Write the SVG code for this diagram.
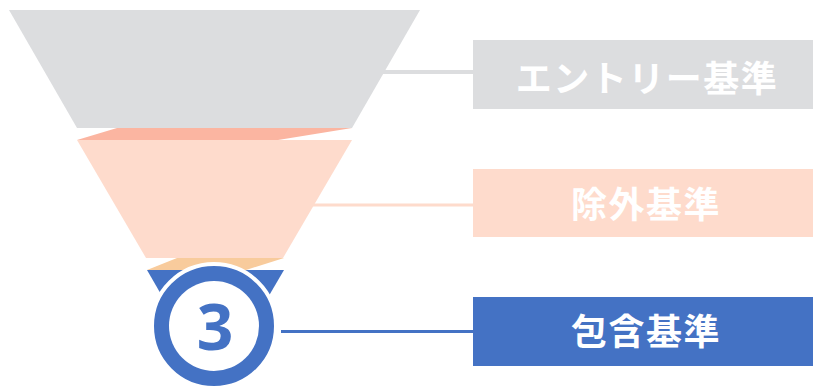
<svg xmlns="http://www.w3.org/2000/svg" width="813" height="388" viewBox="0 0 813 388">
<style>
.lbl{font-family:"Noto Sans CJK JP","Noto Sans",sans-serif;font-weight:700;font-size:36px;fill:#fff;text-anchor:middle;letter-spacing:1.5px}
.num{font-family:"Open Sans","Noto Sans",sans-serif;font-weight:700;font-size:64px;fill:#4472C4;text-anchor:middle}
.conn{fill:none}
</style>
<rect width="813" height="388" fill="#fff"/>
<g id="stage-entry">
<polygon points="9,10 420,10 352,128 77,128" fill="#DCDDDF"/>
</g>
<g id="stage-exclusion">
<polygon points="117,128 352,128 278,140 77,140" fill="#FBB5A1"/>
<polygon points="77,140 352,140 283,258 146,258" fill="#FEDBCC"/>
</g>
<g id="stage-inclusion">
<polygon points="177,258 284,258 246,270 147,270" fill="#F8CB9C"/>
<polygon points="147,270 284,270 215,388 215,388" fill="#4472C4"/>
<circle cx="214" cy="326" r="62" fill="#4472C4" stroke="#fff" stroke-width="4"/>
<circle cx="214" cy="326" r="45" fill="#fff"/>
<text class="num" x="215" y="350">3</text>
</g>
<g id="connectors" class="conn">
<line x1="383" y1="72" x2="474" y2="72" stroke="#DCDDDF" stroke-width="4"/>
<line x1="313" y1="205" x2="474" y2="205" stroke="#FEDBCC" stroke-width="3"/>
<line x1="281" y1="331.5" x2="474" y2="331.5" stroke="#4472C4" stroke-width="3"/>
</g>
<g id="label-entry">
<rect x="473" y="40" width="340" height="69" fill="#DCDDDF"/>
<text class="lbl" x="647" y="92">エントリー基準</text>
</g>
<g id="label-exclusion">
<rect x="473" y="169" width="340" height="68" fill="#FEDBCC"/>
<text class="lbl" x="646" y="218">除外基準</text>
</g>
<g id="label-inclusion">
<rect x="473" y="297" width="340" height="69" fill="#4472C4"/>
<text class="lbl" x="646" y="345">包含基準</text>
</g>
</svg>
